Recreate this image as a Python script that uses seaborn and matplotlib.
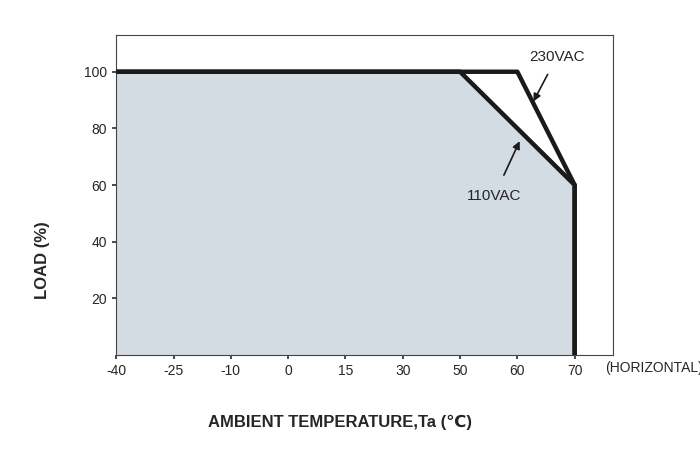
import matplotlib
matplotlib.use("Agg")
import matplotlib.pyplot as plt
import seaborn as sns
import numpy as np
import pandas as pd

sns.set_theme(style="white")
plt.rcParams['font.family'] = ['Liberation Sans', 'DejaVu Sans']

temp_230 = [-40, 60, 70, 70]
load_230 = [100, 100, 60, 0]
temp_110 = [-40, 50, 70, 70]
load_110 = [100, 100, 60, 0]
xticks = [-40, -25, -10, 0, 15, 30, 50, 60, 70]
yticks = [20, 40, 60, 80, 100]

# the chart's temperature axis places ticks at equal spacing
def pos(t):
    return np.interp(t, xticks, np.arange(len(xticks)))

fig = plt.figure(figsize=(7, 4.72), dpi=100)
ax = fig.add_axes([0.166, 0.248, 0.709, 0.678])

ax.fill_between(pos(temp_110), load_110, 0, color="#d3dbe3", zorder=1)
df230 = pd.DataFrame({"t": pos(temp_230), "l": load_230})
df110 = pd.DataFrame({"t": pos(temp_110), "l": load_110})
sns.lineplot(data=df230, x="t", y="l", sort=False, estimator=None, color="#1a1a1a", lw=3.2, ax=ax, zorder=3)
sns.lineplot(data=df110, x="t", y="l", sort=False, estimator=None, color="#1a1a1a", lw=3.2, ax=ax, zorder=3)

ax.set_xlim(0, 8.66)
ax.set_ylim(0, 113)
ax.set_xticks(pos(xticks))
ax.set_xticklabels([str(v) for v in xticks], fontsize=10)
ax.set_yticks(yticks)
ax.set_yticklabels([str(v) for v in yticks], fontsize=10)
ax.tick_params(length=3, color="#333333", direction="out", left=True, bottom=True)
for s in ax.spines.values():
    s.set_color("#444444")
    s.set_linewidth(0.8)
ax.set_xlabel("")
ax.set_ylabel("")

ax.annotate("230VAC", xy=(7.28, 89.5), xytext=(7.69, 105.3), ha="center", va="center", fontsize=11,
            arrowprops=dict(arrowstyle="-|>", color="#1a1a1a", lw=1.2, shrinkA=6, shrinkB=0))
ax.annotate("110VAC", xy=(7.04, 75.5), xytext=(6.6, 56.3), ha="center", va="center", fontsize=11,
            arrowprops=dict(arrowstyle="-|>", color="#1a1a1a", lw=1.2, shrinkA=8, shrinkB=0))

fig.text(605/700, 1 - 368/472, "(HORIZONTAL)", fontsize=10, va="center", ha="left")
fig.text(42/700, 1 - 260/472, "LOAD (%)", fontsize=12, fontweight="bold", rotation=90, va="center", ha="center")
fig.text(340/700, 1 - 422/472, "AMBIENT TEMPERATURE,Ta (\u2103)", fontsize=12, fontweight="bold", va="center", ha="center",
         family=['Liberation Sans', 'DejaVu Sans', 'Noto Sans CJK SC'])

fig.savefig("out.png", dpi=100)
